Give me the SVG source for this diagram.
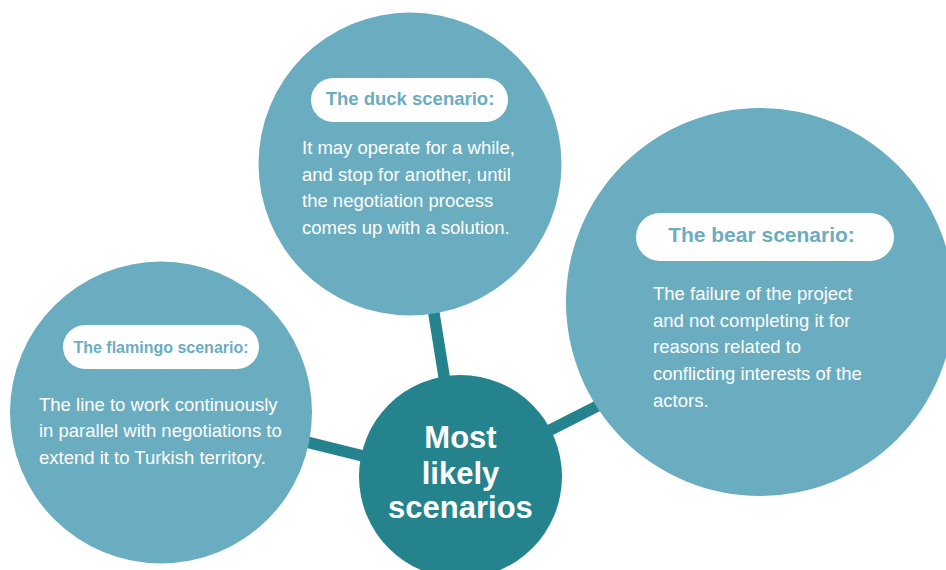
<svg xmlns="http://www.w3.org/2000/svg" width="946" height="570" viewBox="0 0 946 570">
  <style>
    .bubble { fill: #6badc0; }
    .hub { fill: #25838d; }
    .link { stroke: #25838d; stroke-width: 11.5; fill: none; }
    .pill { fill: #ffffff; }
    .title { font-family: "Liberation Sans", Arial, Helvetica, sans-serif; font-weight: bold; fill: #6badc0; text-anchor: middle; }
    .body { font-family: "Liberation Sans", Arial, Helvetica, sans-serif; font-size: 18.5px; fill: #ffffff; }
    .hubtext { font-family: "Liberation Sans", Arial, Helvetica, sans-serif; font-weight: bold; font-size: 31px; fill: #ffffff; text-anchor: middle; }
  </style>

  <!-- spokes from the hub to each scenario bubble -->
  <g id="connectors">
    <line class="link" x1="410" y1="164" x2="460" y2="476"/>
    <line class="link" x1="161" y1="406" x2="460" y2="480"/>
    <line class="link" x1="460" y1="476" x2="680" y2="364"/>
  </g>

  <g id="duck">
    <circle class="bubble" cx="410" cy="164" r="151.5"/>
    <rect class="pill" x="311" y="78" width="197" height="44" rx="22"/>
    <text class="title" x="410" y="105" font-size="18.5">The duck scenario:</text>
    <text class="body" x="302" y="154">It may operate for a while,</text>
    <text class="body" x="302" y="180.5">and stop for another, until</text>
    <text class="body" x="302" y="207">the negotiation process</text>
    <text class="body" x="302" y="233.5">comes up with a solution.</text>
  </g>

  <g id="bear">
    <circle class="bubble" cx="760" cy="302" r="194"/>
    <rect class="pill" x="636" y="213" width="258" height="48" rx="24"/>
    <text class="title" x="761.5" y="242" font-size="21">The bear scenario:</text>
    <text class="body" x="653" y="300">The failure of the project</text>
    <text class="body" x="653" y="326.7">and not completing it for</text>
    <text class="body" x="653" y="353.4">reasons related to</text>
    <text class="body" x="653" y="380.1">conflicting interests of the</text>
    <text class="body" x="653" y="406.8">actors.</text>
  </g>

  <g id="flamingo">
    <circle class="bubble" cx="161" cy="412.5" r="151"/>
    <rect class="pill" x="63" y="325" width="196" height="44" rx="22"/>
    <text class="title" x="161" y="352.5" font-size="16">The flamingo scenario:</text>
    <text class="body" x="39" y="410.5">The line to work continuously</text>
    <text class="body" x="39" y="437.2">in parallel with negotiations to</text>
    <text class="body" x="39" y="463.9">extend it to Turkish territory.</text>
  </g>

  <g id="hub">
    <circle class="hub" cx="460.5" cy="476.5" r="101.5"/>
    <text class="hubtext" x="460.5" y="448">Most</text>
    <text class="hubtext" x="460.5" y="484">likely</text>
    <text class="hubtext" x="460.5" y="518">scenarios</text>
  </g>
</svg>
